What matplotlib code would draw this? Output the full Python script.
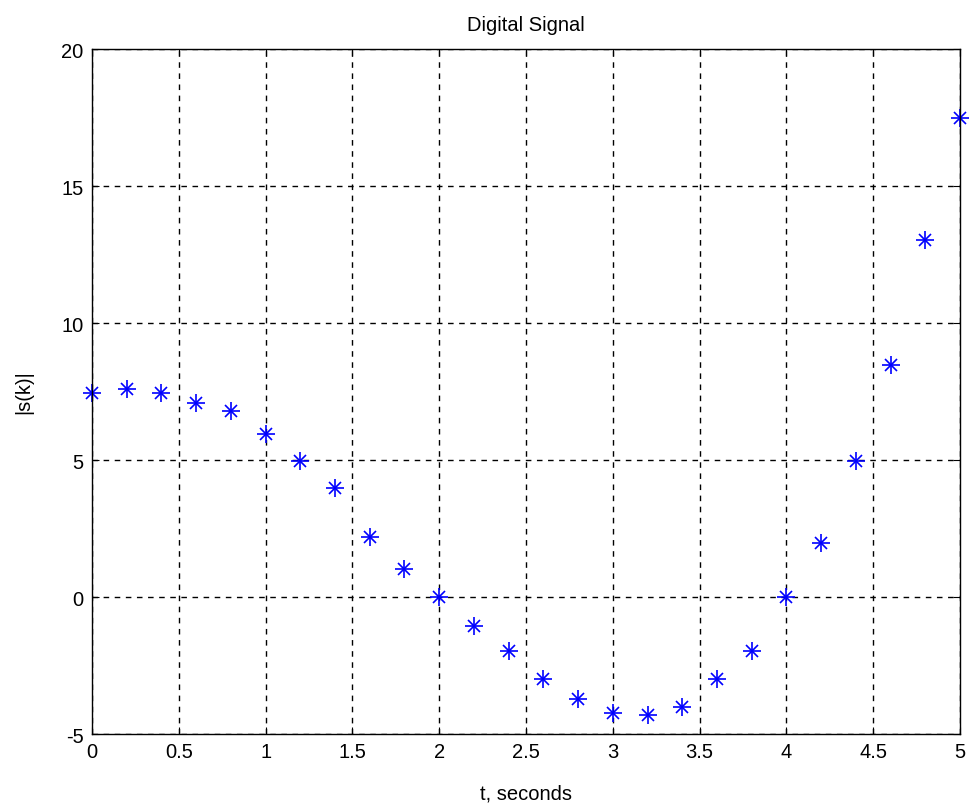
import matplotlib
matplotlib.use("Agg")
import matplotlib.pyplot as plt

plt.rcParams['font.family'] = ['Liberation Sans', 'DejaVu Sans']
plt.rcParams['axes.unicode_minus'] = False

t = [0, 0.2, 0.4, 0.6, 0.8, 1.0, 1.2, 1.4, 1.6, 1.8, 2.0, 2.2, 2.4,
     2.6, 2.8, 3.0, 3.2, 3.4, 3.6, 3.8, 4.0, 4.2, 4.4, 4.6, 4.8, 5.0]
s = [7.45, 7.6, 7.45, 7.08, 6.79, 5.95, 4.96, 3.98, 2.19, 1.02, 0.0, -1.06, -1.97,
     -2.99, -3.72, -4.23, -4.31, -4.01, -2.99, -1.97, 0.0, 1.97, 4.96, 8.47, 13.03, 17.48]
xticks = [0, 0.5, 1, 1.5, 2, 2.5, 3, 3.5, 4, 4.5, 5]
xticklabels = ["0", "0.5", "1", "1.5", "2", "2.5", "3", "3.5", "4", "4.5", "5"]
yticks = [-5, 0, 5, 10, 15, 20]

fig = plt.figure(figsize=(9.71, 8.12), dpi=100)
ax = fig.add_axes([0.0947, 0.0948, 0.8940, 0.8436])

# matlab style asterisk = plus + x
ax.plot(t, s, linestyle="none", marker="+", markersize=13, markeredgewidth=1.2, color="blue", clip_on=False)
ax.plot(t, s, linestyle="none", marker="x", markersize=8, markeredgewidth=1.2, color="blue", clip_on=False)

ax.set_xlim(0, 5)
ax.set_ylim(-5, 20)
ax.set_xticks(xticks)
ax.set_xticklabels(xticklabels)
ax.set_yticks(yticks)
ax.tick_params(direction="in", top=True, right=True, labelsize=14.5, length=5, pad=6)
ax.grid(True, color="black", linestyle=(0, (4, 4)), linewidth=1)
for sp in ax.spines.values():
    sp.set_linewidth(1)

ax.set_title("Digital Signal", fontsize=14.5, pad=14)
ax.set_xlabel("t, seconds", fontsize=14.5, labelpad=16)
ax.set_ylabel("|s(k)|", fontsize=14.5, labelpad=20)

fig.savefig("out.png", dpi=100)
